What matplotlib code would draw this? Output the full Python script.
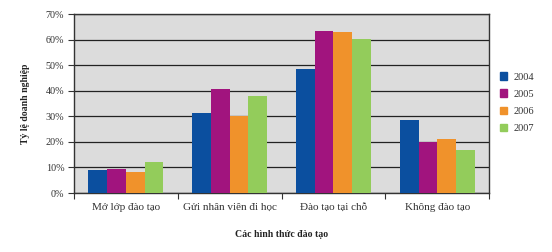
import numpy as np
import matplotlib
matplotlib.use('Agg')
import matplotlib.pyplot as plt
from matplotlib.patches import Patch

categories = ['Mở lớp đào tạo', 'Gửi nhân viên đi học', 'Đào tạo tại chỗ', 'Không đào tạo']
years = ['2004', '2005', '2006', '2007']
v2004 = [9.0, 31.3, 48.4, 28.7]
v2005 = [9.3, 40.8, 63.3, 19.8]
v2006 = [8.4, 30.0, 63.0, 21.2]
v2007 = [12.3, 37.9, 60.1, 17.0]
colors = ['#0b4f9f', '#a1147e', '#f0922b', '#93cc5b']

plt.rcParams['font.family'] = ['Liberation Serif', 'DejaVu Serif']

fig = plt.figure(figsize=(5.52, 2.52), dpi=100)
ax = fig.add_axes([0.134, 0.234, 0.752, 0.710])
ax.set_facecolor('#dcdcdc')

x = np.arange(len(categories))
w = 0.18
series = [v2004, v2005, v2006, v2007]
for i, vals in enumerate(series):
    ax.bar(x + (i - 1.5) * w, vals, w, color=colors[i], zorder=3, label=years[i])

ax.set_xlim(-0.5, 3.5)
ax.set_ylim(0, 70)
ax.set_yticks(np.arange(0, 71, 10))
ax.set_yticklabels(['%d%%' % t for t in range(0, 71, 10)])
ax.yaxis.grid(True, color='#222222', lw=0.9, zorder=1)
ax.set_xticks(x)
ax.set_xticklabels(categories)
ax.set_xticks(np.arange(-0.5, 4, 1), minor=True)
ax.tick_params(axis='x', which='major', length=0, pad=7, labelsize=8, colors='#333333')
ax.tick_params(axis='x', which='minor', length=4, width=0.8, color='#333333')
ax.tick_params(axis='y', length=4, width=0.8, labelsize=7.3, pad=3, colors='#333333')
for s in ax.spines.values():
    s.set_color('#333333')
    s.set_linewidth(1.0)

ax.set_xlabel('Các hình thức đào tạo', fontsize=7, fontweight='bold', color='#222222', labelpad=13)
ax.set_ylabel('Tỷ lệ doanh nghiệp', fontsize=7, fontweight='bold', color='#222222', labelpad=11)

handles = [Patch(color=c, label=y) for c, y in zip(colors, years)]
fig.legend(handles=handles, loc='upper left', bbox_to_anchor=(0.889, 0.75), frameon=False,
           fontsize=7.5, handlelength=0.7, handleheight=0.7, handletextpad=0.6,
           labelspacing=0.75, labelcolor='#333333')

fig.savefig('out.png', dpi=100)
